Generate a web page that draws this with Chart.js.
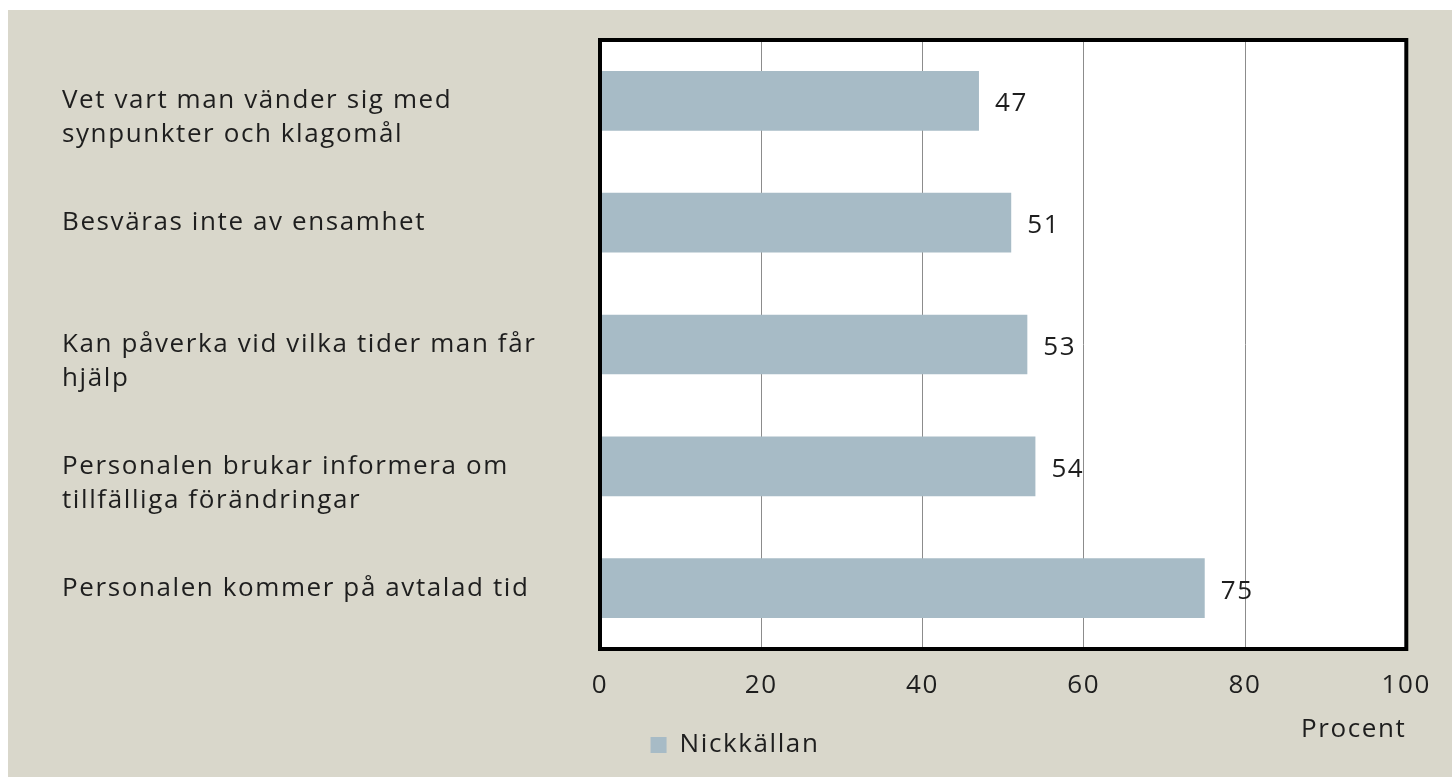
<!DOCTYPE html>
<html>
<head>
<meta charset="utf-8">
<script src="https://cdn.jsdelivr.net/npm/chart.js@4.4.1/dist/chart.umd.min.js"></script>
<style>
    html, body { margin: 0; padding: 0; background: #ffffff; }
    #wrap {
        position: absolute;
        left: 8px;
        top: 10px;
        width: 1444px;
        height: 767px;
        background: #d9d7cb;
    }
</style>
</head>
<body>
<div id="wrap"><canvas id="chart1"></canvas></div>
<script>
// data
// (leading '' pushes the two-line labels down a bit, like the original)
const categories = [
    ['', 'Vet vart man vänder sig med', 'synpunkter och klagomål'],
    'Besväras inte av ensamhet',
    ['', 'Kan påverka vid vilka tider man får', 'hjälp'],
    ['', 'Personalen brukar informera om', 'tillfälliga förändringar'],
    'Personalen kommer på avtalad tid'
];
const nickkallanValues = [47, 51, 53, 54, 75];
const xTicks = [0, 20, 40, 60, 80, 100];

const textColor = '#1e1e1e';
const fontFamily = "'Open Sans', 'DejaVu Sans', sans-serif";
const fontSize = 26;
const spacing = '1.6px';

// the original font is wide, so open the letters up a bit
const letterSpacing = {
    id: 'letterSpacing',
    beforeLayout(chart) { chart.ctx.letterSpacing = spacing; },
    beforeDraw(chart) { chart.ctx.letterSpacing = spacing; }
};

// white plot area + thick black frame
const plotFrame = {
    id: 'plotFrame',
    beforeDraw(chart) {
        const { ctx, chartArea } = chart;
        ctx.save();
        ctx.fillStyle = '#ffffff';
        ctx.fillRect(chartArea.left, chartArea.top, chartArea.right - chartArea.left, chartArea.bottom - chartArea.top);
        ctx.restore();
    },
    afterDatasetsDraw(chart) {
        const { ctx, chartArea } = chart;
        ctx.save();
        ctx.strokeStyle = '#000000';
        ctx.lineWidth = 4;
        ctx.strokeRect(chartArea.left, chartArea.top, chartArea.right - chartArea.left, chartArea.bottom - chartArea.top);
        ctx.restore();
    }
};

// value labels at the end of each bar
const valueLabels = {
    id: 'valueLabels',
    afterDatasetsDraw(chart) {
        const { ctx } = chart;
        ctx.save();
        ctx.font = fontSize + 'px ' + fontFamily;
        ctx.fillStyle = textColor;
        ctx.textAlign = 'left';
        ctx.textBaseline = 'middle';
        chart.data.datasets.forEach((ds, i) => {
            chart.getDatasetMeta(i).data.forEach((bar, j) => {
                ctx.fillText(ds.data[j], bar.x + 16, bar.y + 3);
            });
        });
        ctx.restore();
    }
};

const data = {
    labels: categories,
    datasets: [{
        label: 'Nickkällan',
        data: nickkallanValues,
        backgroundColor: '#a7bbc6',
        borderWidth: 0,
        categoryPercentage: 1,
        barPercentage: 0.49
    }]
};

const config = {
    type: 'bar',
    data: data,
    options: {
        indexAxis: 'y',
        responsive: true,
        maintainAspectRatio: false,
        animation: false,
        layout: {
            padding: { left: 54, top: 30, right: 44, bottom: 9 }
        },
        scales: {
            x: {
                min: 0,
                max: 100,
                afterBuildTicks: (scale) => {
                    scale.ticks = xTicks.map(v => ({ value: v }));
                },
                afterFit: (scale) => { scale.height = 73; },
                grid: {
                    color: (c) => (c.tick && (c.tick.value === 0 || c.tick.value === 100)) ? 'rgba(0,0,0,0)' : '#8c8c8c',
                    lineWidth: 1,
                    drawTicks: false
                },
                border: { display: false },
                ticks: {
                    padding: 21,
                    color: textColor,
                    font: { size: fontSize, family: fontFamily }
                },
                title: {
                    display: true,
                    text: 'Procent',
                    align: 'end',
                    color: textColor,
                    font: { size: fontSize, family: fontFamily },
                    padding: { top: 0, bottom: -23 }
                }
            },
            y: {
                afterFit: (scale) => { scale.width = 538; },
                grid: { display: false },
                border: { display: false },
                ticks: {
                    crossAlign: 'far',
                    color: textColor,
                    font: { size: fontSize, family: fontFamily, lineHeight: 1.31 }
                }
            }
        },
        plugins: {
            legend: {
                position: 'bottom',
                labels: {
                    color: textColor,
                    boxWidth: 16,
                    boxHeight: 16,
                    padding: 10,
                    font: { size: fontSize, family: fontFamily }
                }
            },
            tooltip: { enabled: false }
        }
    },
    plugins: [letterSpacing, plotFrame, valueLabels]
};

const chart1 = new Chart(document.getElementById('chart1'), config);
</script>
</body>
</html>
